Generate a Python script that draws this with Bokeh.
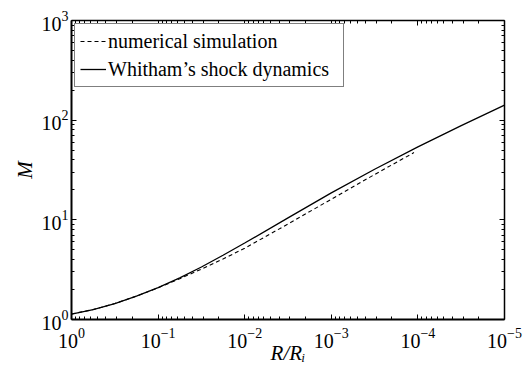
import math

from bokeh.plotting import figure
from bokeh.models import Range1d, LogAxis, FixedTicker, Legend, LegendItem
from bokeh.embed import file_html
from bokeh.resources import INLINE

# Shock Mach number M against the normalised radius R/R_i
r_numerical = [1.0, 0.562, 0.316, 0.178, 0.1, 0.0562, 0.0316, 0.0178, 0.01,
               0.00316, 0.001, 3.16e-4, 1.11e-4]
m_numerical = [1.135, 1.259, 1.445, 1.714, 2.08, 2.57, 3.20, 4.05, 5.19,
               9.08, 16.1, 28.5, 47.3]

r_whitham = [1.0, 0.562, 0.316, 0.178, 0.1, 0.0562, 0.0316, 0.0178, 0.01,
             0.00316, 0.001, 3.16e-4, 1.0e-4, 3.16e-5, 1.0e-5]
m_whitham = [1.135, 1.259, 1.445, 1.714, 2.089, 2.618, 3.365, 4.416, 5.848,
             10.47, 18.62, 32.18, 54.0, 88.3, 141.3]

x_tick_values = [1.0, 1e-1, 1e-2, 1e-3, 1e-4, 1e-5]
y_tick_values = [1.0, 10.0, 100.0, 1000.0]

x_title = "R/R\u1d62"
y_title = "M"
legend_labels = ["numerical simulation", "Whitham\u2019s shock dynamics"]

FONT = "Liberation Serif"

p = figure(width=532, height=371,
           x_axis_type="log", y_axis_type="log",
           x_range=Range1d(1.0, 1e-5), y_range=Range1d(1.0, 1000.0),
           output_backend="svg", toolbar_location=None,
           min_border_left=71, min_border_right=28,
           min_border_top=20, min_border_bottom=52)
p.grid.visible = False
p.outline_line_color = None
p.background_fill_color = "white"
p.border_fill_color = "white"


def minor_ticks(majors):
    lo = int(round(math.log10(min(majors))))
    hi = int(round(math.log10(max(majors))))
    return [k * 10.0 ** e for e in range(lo, hi) for k in range(2, 10)]


def style_axis(ax, majors, width, show_labels):
    ax.ticker = FixedTicker(ticks=majors, minor_ticks=minor_ticks(majors))
    ax.axis_line_color = "black"
    ax.axis_line_width = width
    ax.major_tick_in = 5
    ax.major_tick_out = 0
    ax.minor_tick_in = 3
    ax.minor_tick_out = 0
    ax.major_tick_line_color = "black"
    ax.minor_tick_line_color = "black"
    ax.major_tick_line_width = 1
    ax.minor_tick_line_width = 1
    if show_labels:
        ax.major_label_text_font = FONT
        ax.major_label_text_font_size = "20px"
        ax.major_label_text_color = "black"
    else:
        ax.major_label_text_font_size = "0px"
        ax.major_label_text_alpha = 0
        ax.major_label_standoff = 0


p.add_layout(LogAxis(), "above")
p.add_layout(LogAxis(), "right")
for ax in p.below + p.above:
    main = ax in p.below
    style_axis(ax, x_tick_values, 2 if main else 1.5, main)
for ax in p.left + p.right:
    main = ax in p.left
    style_axis(ax, y_tick_values, 2 if main else 1.5, main)

xa = p.below[0]
xa.major_label_standoff = 8
xa.axis_label = x_title
xa.axis_label_text_font = FONT
xa.axis_label_text_font_style = "italic"
xa.axis_label_text_font_size = "21px"
xa.axis_label_text_color = "black"
xa.axis_label_standoff = -10

ya = p.left[0]
ya.major_label_standoff = 3
ya.axis_label = y_title
ya.axis_label_text_font = FONT
ya.axis_label_text_font_style = "italic"
ya.axis_label_text_font_size = "21px"
ya.axis_label_text_color = "black"
ya.axis_label_standoff = 2

line_num = p.line(r_numerical, m_numerical, line_color="black",
                  line_width=1.1, line_dash="4 3")
line_wh = p.line(r_whitham, m_whitham, line_color="black", line_width=1.3)

legend = Legend(
    items=[LegendItem(label=legend_labels[0], renderers=[line_num]),
           LegendItem(label=legend_labels[1], renderers=[line_wh])],
    location="top_left", margin=3, padding=5, spacing=4,
    glyph_width=26, glyph_height=24, label_height=24, label_width=230,
    label_standoff=2, label_text_font=FONT, label_text_font_size="20px",
    label_text_color="black",
    border_line_color="black", border_line_width=1.5,
    background_fill_color="white", background_fill_alpha=1.0,
)
p.add_layout(legend)

open("out.html", "w").write(file_html(p, INLINE))
